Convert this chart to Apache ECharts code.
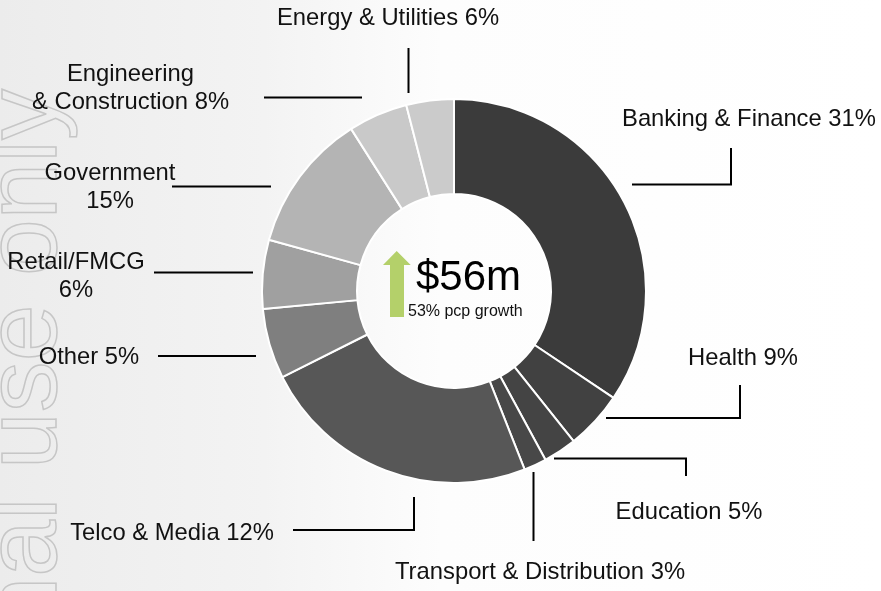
<!DOCTYPE html>
<html>
<head>
<meta charset="utf-8">
<style>
  html, body { margin: 0; padding: 0; background: #fff; }
  #chart { width: 881px; height: 591px; }
</style>
<script src="https://cdn.jsdelivr.net/npm/echarts@6/dist/echarts.min.js"></script>
</head>
<body>
<div id="chart"></div>
<script>
// 扇区数据 (按顺时针, 从12点开始)
const categories = ['Banking & Finance', 'Health', 'Education', 'Transport & Distribution', 'Telco & Media',
    'Other', 'Retail/FMCG', 'Government', 'Engineering & Construction', 'Energy & Utilities'];
const shareValues = [34.4, 4.9, 2.8, 1.9, 23.6, 5.9, 5.8, 11.7, 5.0, 4.0];
const labelTexts = ['Banking & Finance 31%', 'Health 9%', 'Education 5%', 'Transport & Distribution 3%',
    'Telco & Media 12%', 'Other 5%', 'Retail/FMCG\n6%', 'Government\n15%',
    'Engineering\n& Construction 8%', 'Energy & Utilities 6%'];
const centerValue = '$56m';
const centerNote = '53% pcp growth';

// 样式
const sliceColors = ['#3b3b3b', '#414141', '#444444', '#484848', '#575757',
    '#7f7f7f', '#a0a0a0', '#b4b4b4', '#c9c9c9', '#cbcbcb'];
const FONT = '"Liberation Sans", Arial, sans-serif';

// 标签位置和引导线 (像素)
const labelLayoutList = [
    { x: 749, y: 119, line: [[632, 184.5], [731, 184.5], [731, 148]] },
    { x: 743, y: 358, line: [[606, 418], [740, 418], [740, 385]] },
    { x: 689, y: 512, line: [[554, 458.5], [686, 458.5], [686, 476]] },
    { x: 540, y: 572, line: [[533.5, 472], [533.5, 506], [533.5, 541]] },
    { x: 172, y: 533, line: [[293, 530], [414, 530], [414, 497]] },
    { x: 89, y: 357, line: [[158, 356], [207, 356], [256, 356]] },
    { x: 76, y: 276, line: [[154, 272.5], [203, 272.5], [253, 272.5]] },
    { x: 110, y: 187, line: [[172, 186.5], [221, 186.5], [271, 186.5]] },
    { x: 130.5, y: 88, line: [[264, 97.5], [313, 97.5], [362, 97.5]] },
    { x: 388, y: 18, line: [[408.5, 48], [408.5, 70], [408.5, 93]] }
];

const chart = echarts.init(document.getElementById('chart'));

const pieData = categories.map((name, i) => ({
    name: name,
    value: shareValues[i],
    itemStyle: { color: sliceColors[i] }
}));

const option = {
    animation: false,
    backgroundColor: {
        type: 'linear', x: 0, y: 0, x2: 1, y2: 0,
        colorStops: [
            { offset: 0, color: '#ececec' },
            { offset: 0.3, color: '#f3f3f3' },
            { offset: 0.5, color: '#fdfdfd' },
            { offset: 1, color: '#ffffff' }
        ]
    },
    graphic: [
        // 水印
        {
            type: 'text',
            x: 79, y: 89,
            rotation: Math.PI / 2,
            silent: true,
            style: {
                text: 'Internal use only',
                font: '102px ' + FONT,
                fill: 'rgba(0,0,0,0)',
                stroke: '#c6c6c6',
                lineWidth: 1.5,
                align: 'right', verticalAlign: 'bottom',
                textAlign: 'right', textVerticalAlign: 'bottom'
            }
        },
        // 中心箭头
        {
            type: 'polygon',
            shape: { points: [[396.7, 251], [410.7, 265], [404, 265], [404, 317], [390, 317], [390, 265], [383, 265]] },
            style: { fill: '#b4d06a' },
            z: 10
        },
        {
            type: 'text',
            x: 416, y: 278,
            z: 10,
            style: {
                text: centerValue, font: '42px ' + FONT, fill: '#000',
                align: 'left', verticalAlign: 'middle',
                textAlign: 'left', textVerticalAlign: 'middle'
            }
        },
        {
            type: 'text',
            x: 408, y: 312,
            z: 10,
            style: {
                text: centerNote, font: '16px ' + FONT, fill: '#111',
                align: 'left', verticalAlign: 'middle',
                textAlign: 'left', textVerticalAlign: 'middle'
            }
        }
    ],
    series: [{
        type: 'pie',
        center: [454, 291],
        radius: [97, 192],
        startAngle: 90,
        clockwise: true,
        avoidLabelOverlap: false,
        emphasis: { disabled: true },
        itemStyle: { borderColor: '#ffffff', borderWidth: 2 },
        label: {
            show: true,
            position: 'outside',
            formatter: p => labelTexts[p.dataIndex],
            fontFamily: FONT,
            fontSize: 23.8,
            lineHeight: 28,
            color: '#111',
            align: 'center'
        },
        labelLine: {
            show: true,
            lineStyle: { color: '#000', width: 2 }
        },
        labelLayout: function (params) {
            const l = labelLayoutList[params.dataIndex];
            return {
                x: l.x,
                y: l.y,
                align: 'center',
                verticalAlign: 'middle',
                labelLinePoints: l.line
            };
        },
        data: pieData
    }]
};

chart.setOption(option);
</script>
</body>
</html>
